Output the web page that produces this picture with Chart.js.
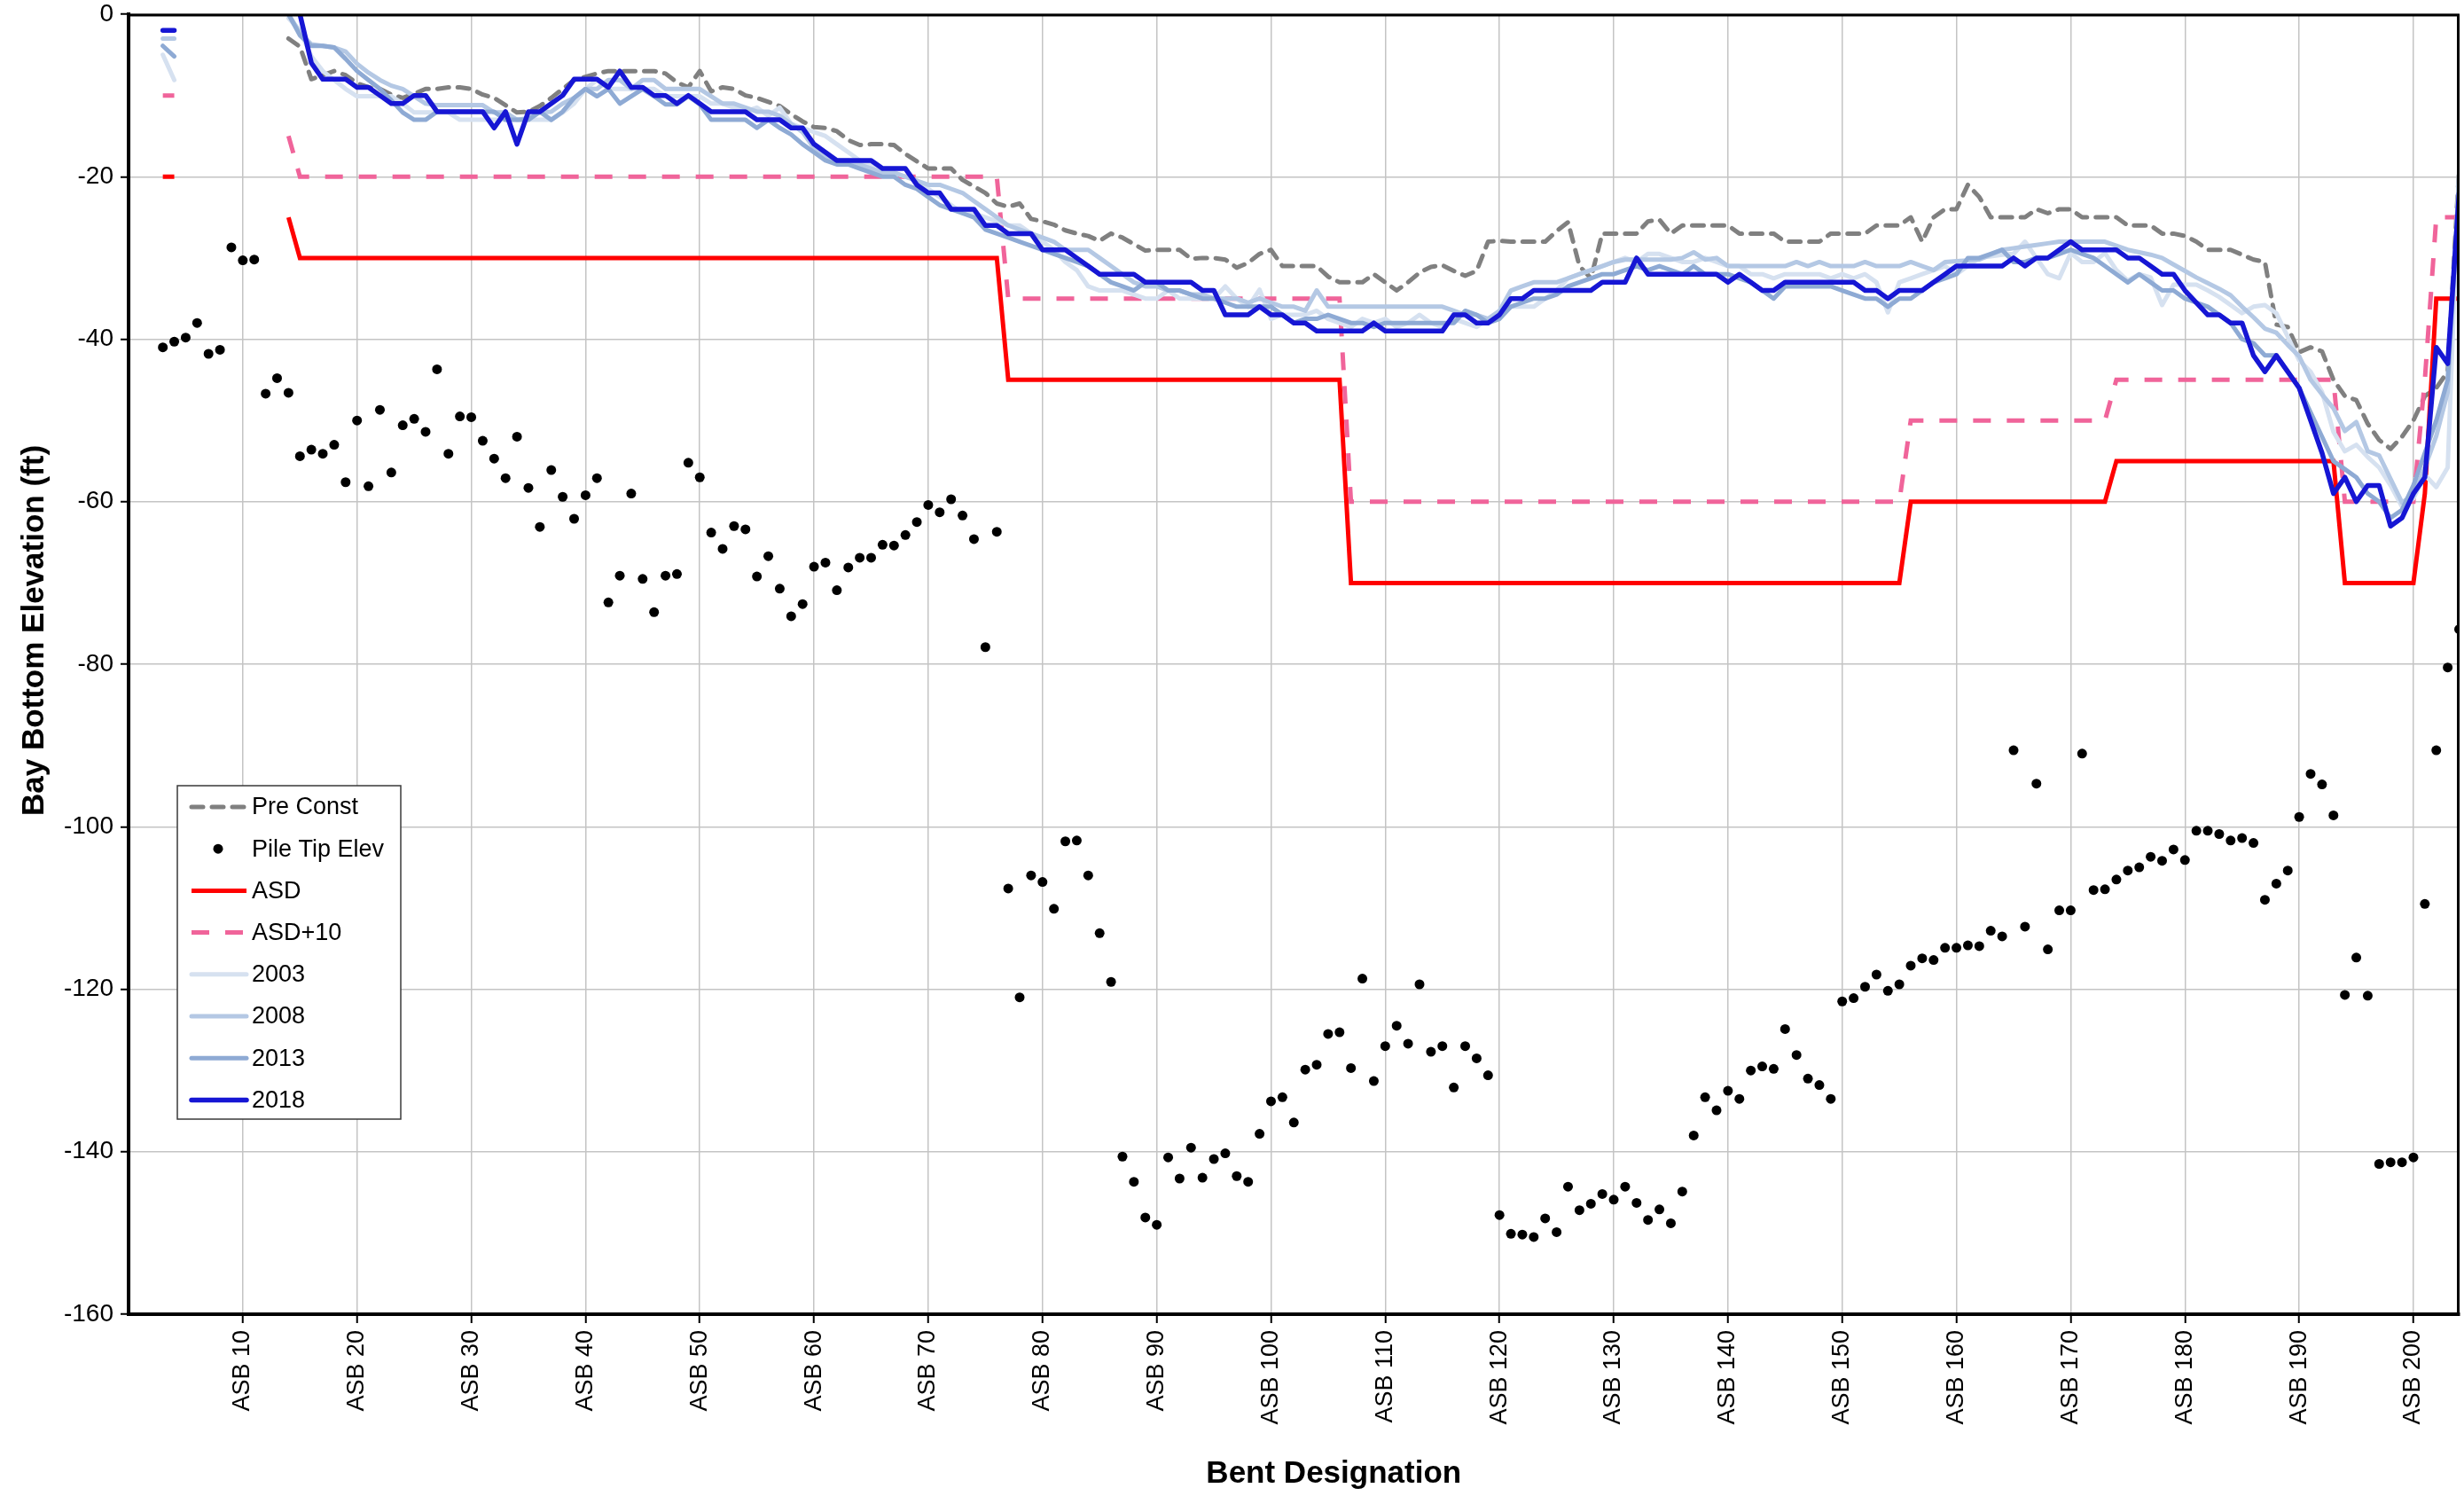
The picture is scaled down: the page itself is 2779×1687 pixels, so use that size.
<!DOCTYPE html>
<html>
<head>
<meta charset="utf-8">
<title>Bay Bottom Elevation</title>
<script src="https://cdn.jsdelivr.net/npm/chart.js@4.4.1/dist/chart.umd.min.js"></script>
<style>
  html, body { margin: 0; padding: 0; background: #fff; }
  #wrap { width: 2779px; height: 1687px; }
</style>
</head>
<body>
<div id="wrap"><canvas id="chart" width="2779" height="1687"></canvas></div>
<script>
// Bent numbers along the bridge (ASB 1 .. ASB 204)
const bents = Array.from({ length: 204 }, (_, i) => i + 1);

// Tick labels on the two axes
const xTickValues = [10, 20, 30, 40, 50, 60, 70, 80, 90, 100, 110, 120, 130, 140, 150, 160, 170, 180, 190, 200];
const xTickLabels = ['ASB 10', 'ASB 20', 'ASB 30', 'ASB 40', 'ASB 50', 'ASB 60', 'ASB 70', 'ASB 80', 'ASB 90', 'ASB 100',
  'ASB 110', 'ASB 120', 'ASB 130', 'ASB 140', 'ASB 150', 'ASB 160', 'ASB 170', 'ASB 180', 'ASB 190', 'ASB 200'];
const yTickValues = [0, -20, -40, -60, -80, -100, -120, -140, -160];

// Pre-construction bay bottom (ft), one value per bent
const preConst = [
  null, null, null, null, null, null, null, null, null, null,
  null, null, null, -3, -4, -8, -7.5, -7, -7.5, -8.5,
  -9, -9.2, -9.9, -10.3, -9.8, -9.2, -9.2, -9, -9, -9.2,
  -9.9, -10.3, -11.2, -12.1, -12, -11.3, -10.3, -9.2, -8.1, -7.7,
  -7.3, -7, -7, -7, -7, -7, -7.3, -8.4, -9, -7,
  -9.5, -9, -9.2, -10, -10.3, -10.8, -11.3, -12.3, -13.2, -13.9,
  -14, -14.4, -15.5, -16.1, -16, -16, -16.1, -17.2, -18.1, -19,
  -19, -19, -20.4, -21.2, -22, -23.3, -23.7, -23.3, -25.2, -25.5,
  -25.9, -26.6, -27, -27.3, -27.9, -27, -27.5, -28.3, -29.1, -29,
  -29, -29, -30.1, -30, -30, -30.2, -31.2, -30.6, -29.5, -29,
  -31, -31, -31, -31, -32.3, -33, -33, -33, -32, -33,
  -34, -33, -31.8, -31.1, -30.9, -31.6, -32.2, -31.6, -28, -27.9,
  -28, -28, -28, -28, -26.7, -25.6, -31, -32.5, -27, -27,
  -27, -27, -25.5, -25.3, -27, -26, -26, -26, -26, -26,
  -27, -27, -27, -27, -28, -28, -28, -28, -27, -27,
  -27, -27, -26, -26, -26, -25, -28, -25, -24, -24,
  -21, -22.5, -25, -25, -25, -25, -24, -24.5, -24, -24,
  -25, -25, -25, -25, -26, -26, -26, -27, -27, -27.3,
  -28, -29, -29, -29, -29.6, -30.2, -30.5, -38.2, -38.5, -41.6,
  -41, -41.5, -45, -47, -47.5, -50.4, -52.4, -53.5, -52, -50,
  -47, -46, -44, -19
];

// Pile tip elevations (ft)
const pileTip = [
  null, null, -41, -40.3, -39.8, -38, -41.8, -41.3, -28.7, -30.3,
  -30.2, -46.7, -44.8, -46.6, -54.4, -53.6, -54.1, -53, -57.6, -50,
  -58.1, -48.7, -56.4, -50.6, -49.8, -51.4, -43.7, -54.1, -49.5, -49.6,
  -52.5, -54.7, -57.1, -52, -58.3, -63.1, -56.1, -59.4, -62.1, -59.2,
  -57.1, -72.4, -69.1, -59, -69.5, -73.6, -69.1, -68.9, -55.2, -57,
  -63.8, -65.8, -63, -63.4, -69.2, -66.7, -70.7, -74.1, -72.6, -68,
  -67.5, -70.9, -68.1, -66.9, -66.9, -65.3, -65.4, -64.1, -62.5, -60.4,
  -61.3, -59.7, -61.7, -64.6, -77.9, -63.7, -107.6, -121, -106, -106.8,
  -110.1, -101.8, -101.7, -106, -113.1, -119.1, -140.6, -143.7, -148.1, -149,
  -140.7, -143.3, -139.5, -143.2, -140.9, -140.2, -143, -143.7, -137.8, -133.8,
  -133.3, -136.4, -129.9, -129.3, -125.5, -125.3, -129.7, -118.7, -131.3, -127,
  -124.5, -126.7, -119.4, -127.7, -127, -132.1, -127, -128.5, -130.6, -147.8,
  -150.1, -150.2, -150.5, -148.2, -149.9, -144.3, -147.2, -146.4, -145.2, -145.9,
  -144.3, -146.3, -148.4, -147.1, -148.8, -144.9, -138, -133.3, -134.9, -132.5,
  -133.5, -130, -129.5, -129.8, -124.9, -128.1, -131, -131.8, -133.5, -121.5,
  -121.1, -119.7, -118.2, -120.2, -119.4, -117.1, -116.2, -116.4, -114.9, -114.9,
  -114.6, -114.7, -112.8, -113.5, -90.6, -112.3, -94.7, -115.1, -110.3, -110.3,
  -91, -107.8, -107.7, -106.5, -105.4, -105, -103.7, -104.2, -102.8, -104.1,
  -100.5, -100.5, -100.9, -101.7, -101.4, -102, -109, -107, -105.4, -98.8,
  -93.5, -94.8, -98.6, -120.7, -116.1, -120.8, -141.5, -141.3, -141.3, -140.7,
  -109.5, -90.6, -80.4, -75.7
];

// ASD design scour lines, given at their break points
const asdBents = [3, 4, 5, 14, 15, 76, 77, 106, 107, 155, 156, 173, 174, 193, 194, 200, 201, 202, 204];
const asdValues = [-20, -20, null, -25, -30, -30, -45, -45, -70, -70, -60, -60, -55, -55, -70, -70, -59, -35, -35];
const asd10Values = [-10, -10, null, -15, -20, -20, -35, -35, -60, -60, -50, -50, -45, -45, -60, -60, -45, -25, -25];

// Survey years (ft)
const survey2003 = [
  null, null, -5, -8.1, null, null, null, null, null, null,
  null, null, null, -0.5, -2, -5.2, -7, -8.1, -9.2, -10.1,
  -10.1, -10.1, -10.1, -11, -12.1, -12.1, -12.1, -12.1, -13, -13,
  -13, -13, -13, -13, -13, -13, -13, -12.1, -11, -9.2,
  -8.1, -9.2, -9.2, -9.2, -9.2, -9.2, -10.1, -10.1, -10.1, -10.1,
  -11, -11, -11.5, -12, -11.5, -12.5, -11.5, -13.5, -14, -14.5,
  -15, -16, -17, -18, -18.5, -19, -19.5, -20, -20.5, -21.5,
  -22.5, -23.5, -24.5, -24.5, -25, -25.5, -26, -26, -27, -28,
  -29, -30.5, -31.5, -33.5, -34, -34, -34, -34.5, -35, -35,
  -34, -35, -35, -35, -35, -33.5, -35, -36, -33.9, -37.5,
  -37, -37, -37, -36.5, -37.5, -38, -38.5, -37.5, -38, -37.5,
  -38.5, -38, -37, -38, -38.5, -37.5, -38, -38.5, -37.5, -37,
  -36, -36, -36, -35, -34, -32.5, -32, -31.5, -31, -30.5,
  -30, -30.5, -29.5, -29.5, -30, -30.5, -30.5, -30, -30.5, -31,
  -31, -32, -32, -32.5, -32, -32, -32, -32, -32.5, -32,
  -32.5, -32, -33, -36.7, -33, -32.5, -32, -31.5, -31, -32,
  -31, -30, -29.8, -29.6, -29.5, -28, -30, -32, -32.5, -29.4,
  -30.5, -30.5, -29.4, -31.5, -32.8, -32, -32.4, -35.8, -33.3, -33.3,
  -33.3, -34, -34.8, -35.8, -36.8, -36, -35.8, -36.8, -39.7, -42.6,
  -44, -46.5, -51.4, -53.8, -53, -54.5, -55.8, -58, -60.6, -59.6,
  -56.7, -58.2, -55.8, -19
];

const survey2008 = [
  null, null, -3, -3, null, null, null, null, null, null,
  null, null, null, 0, -2.3, -3.7, -3.9, -4.1, -4.6, -6.1,
  -7.2, -8.1, -8.8, -9.2, -10.1, -11, -11.2, -11.2, -11.2, -11.2,
  -11.2, -12.1, -12.1, -13, -12.8, -12.1, -12, -11, -10.3, -9.2,
  -9.2, -8.1, -8.1, -9.2, -8.1, -8.1, -9.2, -9.2, -9.2, -9.2,
  -10.1, -11, -11, -11.5, -12, -12, -12.5, -13.5, -14.5, -16.5,
  -17.5, -18, -18, -18.5, -19, -19.5, -19.5, -20, -20.5, -21,
  -21, -21.5, -22, -23, -24, -25, -26, -26.5, -27, -27.5,
  -28, -29, -29, -29, -30, -31, -32, -33, -33.5, -33.5,
  -34, -34, -34.5, -34.5, -35, -35, -35, -35.5, -35, -35.5,
  -36, -36, -36.5, -34, -36, -36, -36, -36, -36, -36,
  -36, -36, -36, -36, -36, -36.5, -37, -37, -37.5, -36.5,
  -34, -33.5, -33, -33, -33, -32.5, -32, -31.5, -31, -30.5,
  -30.2, -30.2, -30.2, -30.2, -30.2, -30, -29.3, -30.2, -30, -31,
  -31, -31, -31, -31, -31, -30.5, -31, -30.5, -31, -31,
  -31, -30.5, -31, -31, -31, -30.5, -31, -31.5, -30.5, -30.4,
  -30.3, -30.2, -29.6, -29, -28.8, -28.6, -28.4, -28.2, -28, -28,
  -28, -28, -28, -28.5, -29, -29.3, -29.6, -30, -30.8, -31.6,
  -32.4, -33.1, -33.8, -34.6, -36, -37.3, -38.7, -39.2, -40.7, -42.1,
  -45, -46.8, -48.5, -51.3, -50.2, -53.8, -54.3, -57.2, -60.1, -59.2,
  -55.8, -51.9, -46.5, -20
];

const survey2013 = [
  null, null, -3.9, -5.2, null, null, null, null, null, null,
  null, null, null, 0, -2.6, -3.9, -3.9, -4.1, -5.5, -7,
  -8.1, -9.2, -10.6, -12.1, -13, -13, -12, -12, -12, -12,
  -12, -12, -13, -13, -13, -12, -13, -12, -10.3, -9.2,
  -10.1, -9.2, -11, -10.1, -9.2, -10.1, -11.1, -11.1, -10.1, -11.1,
  -13, -13, -13, -13, -14, -13, -14, -14.8, -16, -17,
  -18, -18.5, -18.5, -19, -19.5, -20, -20, -21, -21.5, -22.5,
  -23.5, -24, -24.5, -25, -26.5, -27, -27.5, -28, -28.5, -29,
  -29.5, -30, -30.5, -31, -32, -33, -33.5, -34, -33, -33,
  -34, -34, -34.5, -35, -35, -35.5, -36, -36, -36, -36,
  -37, -38, -37.5, -37.5, -37, -37.5, -38, -38, -38.5, -38,
  -38, -38, -38, -38, -38, -38, -36.5, -37, -38, -37.5,
  -36, -35.5, -35, -35, -34.5, -33.5, -33, -32.5, -32, -32,
  -31.5, -31, -31.5, -31, -31.5, -32, -31, -32, -32, -32,
  -32.5, -33, -34, -35, -33.5, -33.5, -33.5, -33.5, -33.5, -34,
  -34.5, -35, -35, -36, -35, -35, -34, -33, -32.5, -32,
  -30, -30, -29.5, -29, -30.5, -30.5, -30, -30, -29.5, -29,
  -29.5, -30, -31, -32, -33, -32, -33, -34, -34, -35,
  -35.5, -36, -37, -38, -40, -40.5, -42, -42, -44, -46,
  -49, -52, -55, -56, -57, -59, -60, -62, -61, -58,
  -54, -50, -45, -21
];

const survey2018 = [
  null, null, -2, -2, null, null, null, null, null, null,
  null, null, null, 1, 0, -6, -8, -8, -8, -9,
  -9, -10, -11, -11, -10, -10, -12, -12, -12, -12,
  -12, -14, -12, -16, -12, -12, -11, -10, -8, -8,
  -8, -9, -7, -9, -9, -10, -10, -11, -10, -11,
  -12, -12, -12, -12, -13, -13, -13, -14, -14, -16,
  -17, -18, -18, -18, -18, -19, -19, -19, -21, -22,
  -22, -24, -24, -24, -26, -26, -27, -27, -27, -29,
  -29, -29, -30, -31, -32, -32, -32, -32, -33, -33,
  -33, -33, -33, -34, -34, -37, -37, -37, -36, -37,
  -37, -38, -38, -39, -39, -39, -39, -39, -38, -39,
  -39, -39, -39, -39, -39, -37, -37, -38, -38, -37,
  -35, -35, -34, -34, -34, -34, -34, -34, -33, -33,
  -33, -30, -32, -32, -32, -32, -32, -32, -32, -33,
  -32, -33, -34, -34, -33, -33, -33, -33, -33, -33,
  -33, -34, -34, -35, -34, -34, -34, -33, -32, -31,
  -31, -31, -31, -31, -30, -31, -30, -30, -29, -28,
  -29, -29, -29, -29, -30, -30, -31, -32, -32, -34,
  -35.5, -37, -37, -38, -38, -42, -44, -42, -44, -46,
  -50, -54, -59, -57, -60, -58, -58, -63, -62, -59,
  -57, -41, -43, -22
];

const fontFamily = '"Liberation Sans", Arial, Helvetica, sans-serif';
const xTitle = 'Bent Designation';
const yTitle = 'Bay Bottom Elevation (ft)';

// pair each value with its bent number
function byBent(values) {
  return values.map((v, i) => ({ x: bents[i], y: v }));
}
function breakPoints(xs, ys) {
  return xs.map((x, i) => ({ x: x, y: ys[i] }));
}

function lineSet(label, data, color, width, order, extra) {
  return Object.assign({
    label: label,
    data: data,
    borderColor: color,
    backgroundColor: color,
    borderWidth: width,
    pointRadius: 0,
    borderJoinStyle: 'round',
    borderCapStyle: 'round',
    spanGaps: false,
    clip: 0,
    order: order
  }, extra || {});
}

// Legend drawn inside the plot (lower left), the top/right frame and the axis titles
const insideLegend = {
  id: 'insideLegend',
  afterDraw(chart) {
    const ctx = chart.ctx;
    const area = chart.chartArea;
    ctx.save();

    ctx.strokeStyle = '#000';
    ctx.lineWidth = 3;
    ctx.beginPath();
    ctx.moveTo(area.left, area.top + 1);
    ctx.lineTo(area.right - 1, area.top + 1);
    ctx.lineTo(area.right - 1, area.bottom);
    ctx.stroke();

    // axis titles
    ctx.fillStyle = '#000';
    ctx.font = 'bold 35px ' + fontFamily;
    ctx.textAlign = 'center';
    ctx.textBaseline = 'middle';
    ctx.fillText(xTitle, (area.left + area.right) / 2 + 45, chart.height - 25);
    ctx.save();
    ctx.translate(39, (area.top + area.bottom) / 2 - 38);
    ctx.rotate(-Math.PI / 2);
    ctx.fillText(yTitle, 0, 0);
    ctx.restore();

    const x0 = area.left + 55;
    const y0 = area.top + 870;
    const rowH = 47.2;
    const w = 252;
    const h = 376;
    ctx.fillStyle = '#fff';
    ctx.fillRect(x0, y0, w, h);
    ctx.strokeStyle = '#3a3a3a';
    ctx.lineWidth = 1.5;
    ctx.strokeRect(x0, y0, w, h);

    ctx.font = '27px ' + fontFamily;
    ctx.textBaseline = 'middle';
    ctx.textAlign = 'left';
    chart.data.datasets.forEach((ds, i) => {
      const cy = y0 + 24 + i * rowH;
      if (ds.showLine === false) {
        ctx.fillStyle = ds.pointBackgroundColor;
        ctx.beginPath();
        ctx.arc(x0 + 46, cy, ds.pointRadius, 0, Math.PI * 2);
        ctx.fill();
      } else {
        ctx.strokeStyle = ds.borderColor;
        ctx.lineWidth = ds.borderWidth;
        ctx.lineCap = ds.borderCapStyle;
        ctx.setLineDash(ds.borderDash || []);
        ctx.beginPath();
        ctx.moveTo(x0 + 16, cy);
        ctx.lineTo(x0 + 78, cy);
        ctx.stroke();
        ctx.setLineDash([]);
      }
      ctx.fillStyle = '#000';
      ctx.fillText(ds.label, x0 + 84, cy + 1);
    });
    ctx.restore();
  }
};

const ctx = document.getElementById('chart').getContext('2d');

new Chart(ctx, {
  type: 'line',
  data: {
    datasets: [
      lineSet('Pre Const', byBent(preConst), '#808080', 5, 7, { borderDash: [13, 10] }),
      {
        label: 'Pile Tip Elev',
        data: byBent(pileTip),
        showLine: false,
        pointRadius: 5.5,
        pointBackgroundColor: '#000',
        pointBorderWidth: 0,
        borderColor: '#000',
        clip: 0,
        order: 6
      },
      lineSet('ASD', breakPoints(asdBents, asdValues), '#ff0000', 5, 5, { borderCapStyle: 'butt', borderJoinStyle: 'miter' }),
      lineSet('ASD+10', breakPoints(asdBents, asd10Values), '#f0649a', 5, 4, { borderDash: [20, 18], borderCapStyle: 'butt', borderJoinStyle: 'miter' }),
      lineSet('2003', byBent(survey2003), '#d6e1f0', 5, 3),
      lineSet('2008', byBent(survey2008), '#b4c8e4', 5, 2),
      lineSet('2013', byBent(survey2013), '#8eaad4', 5, 1),
      lineSet('2018', byBent(survey2018), '#1616d4', 5.5, 0)
    ]
  },
  options: {
    responsive: false,
    animation: false,
    events: [],
    layout: { padding: { top: 16, right: 3, left: 0, bottom: 0 } },
    plugins: {
      legend: { display: false },
      tooltip: { enabled: false }
    },
    scales: {
      x: {
        type: 'linear',
        min: 0,
        max: 204,
        afterFit: scale => {
          scale.height = 205;
          scale.paddingLeft = 0;
          scale.paddingRight = 0;
        },
        ticks: {
          stepSize: 10,
          autoSkip: false,
          minRotation: 90,
          maxRotation: 90,
          padding: 8,
          color: '#000',
          font: { family: fontFamily, size: 27 },
          callback: function(value) {
            const k = xTickValues.indexOf(value);
            return k >= 0 ? xTickLabels[k] : null;
          }
        },
        grid: { color: '#c4c4c4', lineWidth: 1.5, tickColor: '#000', tickLength: 10, tickWidth: 2 },
        border: { color: '#000', width: 4 }
      },
      y: {
        min: -160,
        max: 0,
        afterFit: scale => {
          scale.width = 145;
          scale.paddingTop = 0;
          scale.paddingBottom = 0;
        },
        afterBuildTicks: scale => { scale.ticks = yTickValues.map(v => ({ value: v })); },
        ticks: {
          color: '#000',
          padding: 8,
          font: { family: fontFamily, size: 28 }
        },
        grid: { color: '#c4c4c4', lineWidth: 1.5, tickColor: '#000', tickLength: 9, tickWidth: 2 },
        border: { color: '#000', width: 4 }
      }
    }
  },
  plugins: [insideLegend]
});
</script>
</body>
</html>
